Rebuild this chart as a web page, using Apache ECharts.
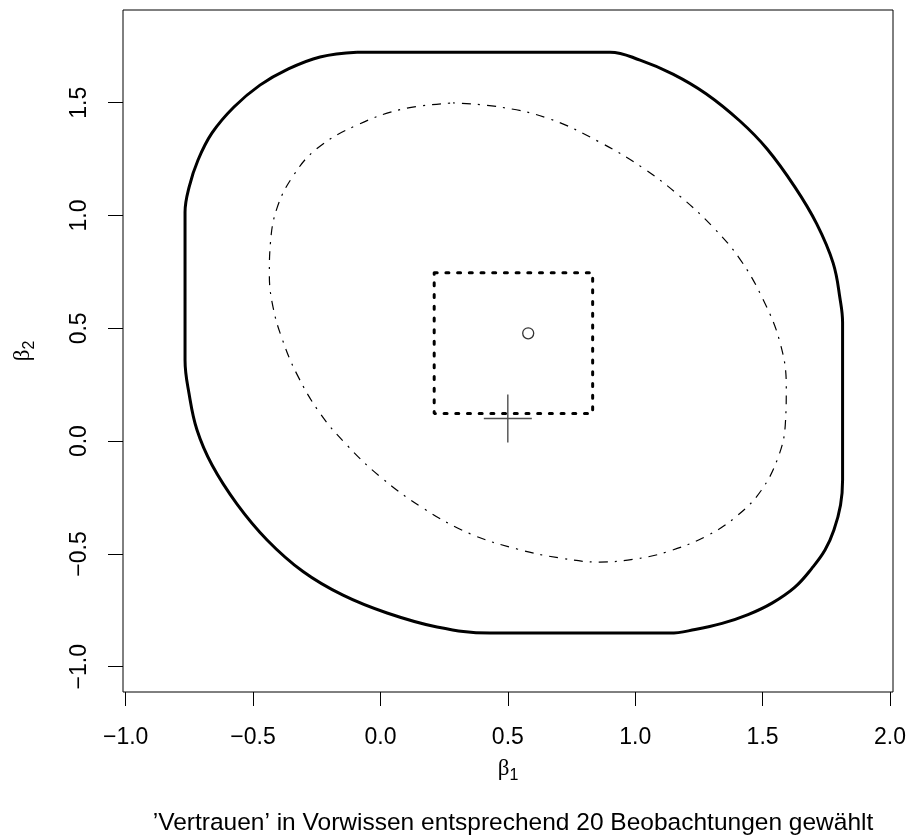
<!DOCTYPE html>
<html>
<head>
<meta charset="utf-8">
<script src="https://cdn.jsdelivr.net/npm/echarts@6/dist/echarts.min.js"></script>
<style>
  html, body { margin: 0; padding: 0; background: #fff; }
  #chart { width: 911px; height: 839px; }
</style>
</head>
<body>
<div id="chart"></div>
<script>
// Axis ticks
var xTicks = [-1.0, -0.5, 0.0, 0.5, 1.0, 1.5, 2.0];
var yTicks = [-1.0, -0.5, 0.0, 0.5, 1.0, 1.5];

// Outer robust region (solid), traced clockwise from the top-left end of the flat top
var outerRegion = [
  [-0.092, 1.724], [0.901, 1.724], [1.019, 1.689], [1.148, 1.627], [1.278, 1.540],
  [1.411, 1.419], [1.517, 1.296], [1.627, 1.126], [1.712, 0.964], [1.777, 0.789],
  [1.804, 0.631], [1.814, 0.526], [1.814, -0.172], [1.806, -0.283], [1.780, -0.394],
  [1.745, -0.483], [1.694, -0.563], [1.627, -0.647], [1.537, -0.718], [1.443, -0.769],
  [1.341, -0.808], [1.235, -0.835], [1.136, -0.851], [0.430, -0.851],
  [0.222, -0.824], [0.026, -0.762], [-0.147, -0.683], [-0.304, -0.578], [-0.445, -0.438],
  [-0.563, -0.279], [-0.661, -0.106], [-0.720, 0.049], [-0.751, 0.209], [-0.767, 0.360],
  [-0.767, 1.015], [-0.751, 1.126], [-0.716, 1.246],
  [-0.661, 1.366], [-0.575, 1.481], [-0.473, 1.578], [-0.367, 1.647], [-0.237, 1.703],
  [-0.092, 1.724]
];

// Posterior credible ellipse (dot-dash)
var credibleEllipse = [
  [0.285, 1.499], [0.469, 1.481], [0.665, 1.428], [0.861, 1.325], [1.030, 1.211],
  [1.175, 1.086], [1.305, 0.949], [1.411, 0.807], [1.501, 0.630], [1.568, 0.439],
  [1.593, 0.244], [1.589, 0.071], [1.560, -0.075], [1.493, -0.221], [1.399, -0.332],
  [1.281, -0.420], [1.124, -0.491], [0.991, -0.524], [0.861, -0.536], [0.704, -0.518],
  [0.536, -0.478], [0.351, -0.410], [0.167, -0.297], [-0.002, -0.157], [-0.132, -0.017],
  [-0.237, 0.123], [-0.328, 0.297], [-0.387, 0.457], [-0.422, 0.596], [-0.436, 0.736],
  [-0.432, 0.876], [-0.406, 1.033], [-0.343, 1.175], [-0.249, 1.297], [-0.092, 1.401],
  [0.088, 1.472], [0.285, 1.499]
];

// Box of prior means (dotted)
var priorBox = [
  [0.211, 0.746], [0.833, 0.746], [0.833, 0.123], [0.211, 0.123], [0.211, 0.746]
];

// Posterior estimate (circle) and data estimate (cross)
var posteriorPoint = [[0.580, 0.478]];
var dataPoint = [[0.500, 0.100]];

var textFont = '"Liberation Sans", Arial, Helvetica, sans-serif';
var greekFont = '"Liberation Serif", "DejaVu Serif", serif';

function fmt(v) {
  return v.toFixed(1).replace('-', '\u2212');
}

var nameRich = {
  g: { fontFamily: greekFont, fontSize: 23, color: '#000', lineHeight: 30, verticalAlign: 'middle' },
  s: { fontFamily: textFont, fontSize: 16, color: '#000', lineHeight: 30, verticalAlign: 'bottom', padding: [8, 0, 0, 0] }
};

var chart = echarts.init(document.getElementById('chart'), null, { renderer: 'canvas' });

chart.setOption({
  backgroundColor: '#ffffff',
  animation: false,
  title: {
    text: '\u2019Vertrauen\u2019 in Vorwissen entsprechend 20 Beobachtungen gew\u00e4hlt',
    left: 508,
    top: 806,
    textAlign: 'center',
    textStyle: { fontFamily: textFont, fontSize: 24.5, fontWeight: 'normal', color: '#000' }
  },
  grid: {
    left: 123, top: 10, width: 770, height: 682,
    show: true, borderColor: '#000', borderWidth: 1, backgroundColor: 'transparent'
  },
  xAxis: {
    type: 'value',
    min: -1.0105, max: 2.0119,
    name: '{g|\u03b2}{s|1}',
    nameLocation: 'middle',
    nameGap: 62,
    nameTextStyle: { rich: nameRich },
    splitLine: { show: false },
    axisLine: { show: false, onZero: false },
    axisTick: { show: true, length: 14, lineStyle: { color: '#000', width: 1 }, customValues: xTicks },
    axisLabel: {
      customValues: xTicks,
      formatter: fmt,
      margin: 34,
      fontFamily: textFont, fontSize: 23, color: '#000'
    }
  },
  yAxis: {
    type: 'value',
    min: -1.112, max: 1.911,
    name: '{g|\u03b2}{s|2}',
    nameLocation: 'middle',
    nameRotate: 90,
    nameGap: 85,
    nameTextStyle: { rich: nameRich },
    splitLine: { show: false },
    axisLine: { show: false, onZero: false },
    axisTick: { show: true, length: 15, lineStyle: { color: '#000', width: 1 }, customValues: yTicks },
    axisLabel: {
      customValues: yTicks,
      formatter: fmt,
      rotate: 90,
      margin: 32,
      fontFamily: textFont, fontSize: 23, color: '#000'
    }
  },
  series: [
    {
      name: 'outer',
      type: 'line',
      data: outerRegion,
      showSymbol: false,
      smooth: 0.4,
      lineStyle: { color: '#000', width: 3 },
      silent: true
    },
    {
      name: 'ellipse',
      type: 'line',
      data: credibleEllipse,
      showSymbol: false,
      smooth: 0.4,
      lineStyle: { color: '#000', width: 1.2, type: [2, 7, 9, 7] },
      silent: true
    },
    {
      name: 'priorBox',
      type: 'line',
      data: priorBox,
      showSymbol: false,
      lineStyle: { color: '#000', width: 3, type: [3, 8.7], cap: 'round' },
      silent: true
    },
    {
      name: 'posterior',
      type: 'scatter',
      data: posteriorPoint,
      symbol: 'circle',
      symbolSize: 11,
      itemStyle: { color: 'rgba(0,0,0,0)', borderColor: '#000', borderWidth: 1.3 },
      silent: true
    },
    {
      name: 'estimate',
      type: 'scatter',
      data: dataPoint,
      symbol: 'path://M0,24 L48,24 M24,0 L24,48',
      symbolSize: 48,
      itemStyle: { color: 'none', borderColor: '#222', borderWidth: 1.4 },
      silent: true
    }
  ]
});
</script>
</body>
</html>
